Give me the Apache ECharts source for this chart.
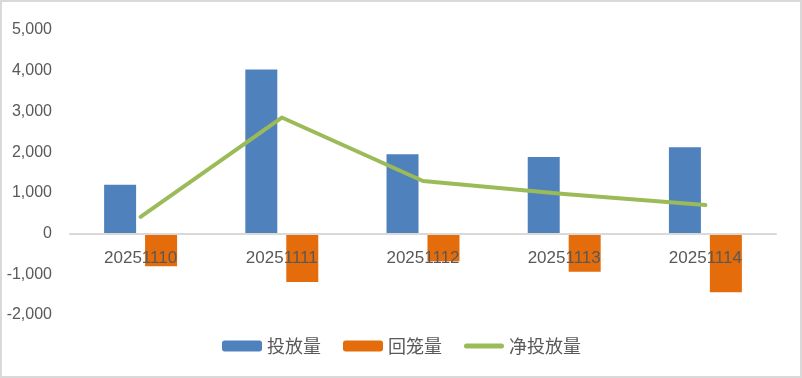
<!DOCTYPE html>
<html>
<head>
<meta charset="utf-8">
<script src="https://cdn.jsdelivr.net/npm/echarts@6/dist/echarts.min.js"></script>
<style>
html,body{margin:0;padding:0;background:#fff;}
#chart{width:802px;height:378px;}
</style>
</head>
<body>
<div id="chart"></div>
<script>
var categories = ['20251110', '20251111', '20251112', '20251113', '20251114'];
var touFang = [1200, 4030, 1950, 1880, 2120];      // 投放量
var huiLong = [-800, -1190, -680, -940, -1440];    // 回笼量
var jingTouFang = [410, 2850, 1290, 970, 700];     // 净投放量
var yTicks = [-2000, -1000, 0, 1000, 2000, 3000, 4000, 5000];

var chart = echarts.init(document.getElementById('chart'));

var gridTop = 30, gridBottom = 63;
var gridH = 378 - gridTop - gridBottom;
// 横轴放在0刻度处
var zeroOffset = -Math.round(gridH * (0 - yTicks[0]) / (yTicks[yTicks.length - 1] - yTicks[0]));

function fmt(v){
    return v.toLocaleString('en-US');
}

chart.setOption({
    animation: false,
    backgroundColor: '#fff',
    graphic: [{
        type: 'rect',
        shape: {x: 1, y: 1, width: 800, height: 376},
        style: {fill: 'none', stroke: '#D9D9D9', lineWidth: 2},
        silent: true
    }],
    grid: {left: 70, right: 26, top: gridTop, bottom: gridBottom},
    legend: {
        left: 222,
        top: 337,
        padding: 0,
        itemWidth: 40,
        itemHeight: 11,
        itemGap: 22,
        symbolKeepAspect: true,
        textStyle: {color: '#595959', fontSize: 18, fontFamily: 'Noto Sans CJK SC'},
        data: [
            {name: '投放量'},
            {name: '回笼量'},
            {
                name: '净投放量',
                // 圆头粗线图例
                icon: 'path://M2.5,0 L37.5,0 A2.5,2.5 0 0 1 37.5,5 L2.5,5 A2.5,2.5 0 0 1 2.5,0 Z',
                itemStyle: {color: '#9BBB59'}
            }
        ]
    },
    xAxis: {
        type: 'category',
        data: categories,
        z: 3,
        offset: zeroOffset,
        axisLine: {onZero: false, lineStyle: {color: '#D9D9D9', width: 2}},
        axisTick: {show: false},
        axisLabel: {color: '#595959', fontSize: 17, margin: 16, fontFamily: 'Liberation Sans'}
    },
    yAxis: {
        type: 'value',
        min: yTicks[0],
        max: yTicks[yTicks.length - 1],
        interval: 1000,
        splitLine: {show: false},
        axisLine: {show: false},
        axisTick: {show: false},
        axisLabel: {color: '#595959', fontSize: 16, margin: 18, fontFamily: 'Liberation Sans', formatter: fmt}
    },
    series: [{
        name: '投放量',
        type: 'bar',
        data: touFang,
        barWidth: 32,
        barGap: '28%',
        itemStyle: {color: '#4F81BD'}
    }, {
        name: '回笼量',
        type: 'bar',
        data: huiLong,
        barWidth: 32,
        barGap: '28%',
        itemStyle: {color: '#E46C0A'}
    }, {
        name: '净投放量',
        type: 'line',
        data: jingTouFang,
        symbol: 'none',
        z: 4,
        lineStyle: {color: '#9BBB59', width: 4, cap: 'round', join: 'round'},
        itemStyle: {color: '#9BBB59'}
    }]
});
</script>
</body>
</html>
